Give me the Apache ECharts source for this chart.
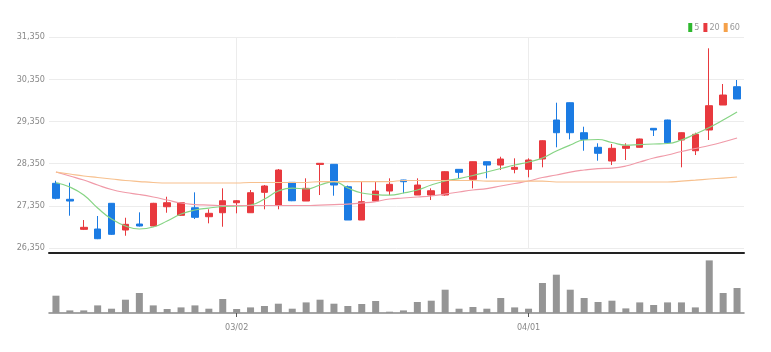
<!DOCTYPE html>
<html><head><meta charset="utf-8">
<script src="https://cdn.jsdelivr.net/npm/echarts@6/dist/echarts.min.js"></script>
<style>html,body{margin:0;padding:0;background:#fff;}#c{width:771px;height:352px;}</style>
</head><body><div id="c"></div>
<script>
const categories = ['02/10','02/11','02/14','02/15','02/16','02/17','02/18','02/21','02/22','02/23','02/24','02/25','02/28','03/02','03/03','03/04','03/07','03/08','03/10','03/11','03/14','03/15','03/16','03/17','03/18','03/21','03/22','03/23','03/24','03/25','03/28','03/29','03/30','03/31','04/01','04/04','04/05','04/06','04/07','04/08','04/11','04/12','04/13','04/14','04/15','04/18','04/19','04/20','04/21','04/22'];
const opens  = [27883,27504,26792,26800,27409,26776,26918,26871,27328,27124,27304,27091,27186,27423,27186,27669,27368,27906,27463,28330,28333,27802,27013,27463,27700,27961,27605,27605,27605,28214,27977,28395,28316,28214,28214,28459,29383,29793,29082,28736,28411,28712,28736,29186,29383,28909,28655,29146,29738,30172];
const closes = [27527,27463,26840,26570,26674,26911,26871,27409,27423,27423,27077,27172,27470,27470,27660,27819,28198,27470,27764,28357,27842,27013,27447,27700,27859,27921,27842,27707,28158,28143,28395,28316,28459,28262,28435,28892,29082,29082,28925,28594,28712,28767,28933,29146,28845,29082,29044,29722,29975,29881];
const lows   = [27504,27115,26776,26560,26660,26641,26860,26860,27186,27110,27037,26935,26854,27172,27180,27267,27267,27460,27463,27605,27589,27013,27013,27447,27605,27646,27605,27487,27590,28001,27764,28001,28198,28120,28025,28262,28736,28925,28655,28418,28316,28435,28730,29004,28840,28262,28553,28909,29738,29881];
const highs  = [27944,27897,27013,27108,27415,27067,27195,27420,27565,27430,27669,27267,27764,27487,27724,27842,28222,27910,28001,28360,28340,27830,27921,27921,28001,27965,28001,27764,28170,28220,28400,28400,28513,28475,28475,28900,29793,29800,29224,28831,28814,28831,28940,29190,29390,29090,29082,31082,30236,30331];
const ma5  = [27897,27795,27605,27297,27037,26871,26800,26847,26989,27155,27250,27297,27333,27345,27368,27511,27700,27771,27748,27842,27925,27771,27653,27617,27605,27653,27724,27842,27937,27996,28068,28150,28233,28316,28388,28482,28648,28790,28909,28921,28850,28790,28802,28814,28826,28909,29051,29205,29383,29573];
const ma20 = [28150,28056,27961,27842,27736,27665,27617,27558,27487,27416,27380,27368,27357,27357,27357,27357,27357,27357,27357,27368,27380,27392,27416,27451,27511,27535,27558,27582,27629,27677,27724,27759,27819,27878,27937,28020,28080,28150,28198,28233,28245,28293,28388,28482,28553,28636,28708,28779,28862,28956];
const ma60 = [28150,28103,28056,28020,27985,27949,27925,27902,27890,27890,27890,27890,27890,27890,27902,27902,27902,27902,27902,27925,27925,27925,27925,27925,27925,27949,27949,27949,27949,27949,27949,27937,27937,27937,27937,27937,27914,27914,27914,27914,27914,27914,27914,27914,27914,27937,27960,27985,28008,28032];
const volumes = [173000,26000,26000,76000,43000,133000,200000,76000,40000,56000,76000,43000,140000,40000,56000,70000,93000,43000,106000,133000,93000,70000,90000,120000,13000,26000,110000,123000,233000,43000,60000,43000,150000,56000,43000,300000,383000,233000,150000,110000,123000,46000,106000,80000,106000,106000,56000,526000,200000,250000];
const yTicks = {min: 26350, max: 31350, step: 1000};
const shownLabels = ['03/02','04/01'];

const candleData = categories.map((c,i)=>[opens[i],closes[i],lows[i],highs[i]]);
const isShown = (idx, val) => shownLabels.indexOf(categories[idx]) >= 0;
const fmt = v => String(v).replace(/\B(?=(\d{3})+(?!\d))/g, ',');
const FONT = "'Liberation Sans Narrow','DejaVu Sans Condensed',sans-serif";

const chart = echarts.init(document.getElementById('c'), null, {renderer:'canvas'});
chart.setOption({
  animation: false,
  backgroundColor: '#fff',
  legend: {
    data: ['5','20','60'], right: 26, top: 18, icon: 'rect', itemWidth: 4, itemHeight: 9, itemGap: 4,
    textStyle: {color: '#999', fontSize: 9, fontFamily: FONT, padding: [0,0,0,-3]}
  },
  grid: [
    {left: 49, right: 27, top: 37, height: 211},
    {left: 49, right: 27, top: 258, bottom: 39}
  ],
  xAxis: [
    {type: 'category', data: categories, gridIndex: 0, boundaryGap: true, offset: 5,
     axisLine: {show: true, lineStyle: {color: '#222', width: 2}}, axisTick: {show: false}, axisLabel: {show: false},
     splitLine: {show: false}},
    {type: 'category', data: categories, gridIndex: 1, boundaryGap: true,
     axisLine: {show: true, lineStyle: {color: '#888', width: 1.5}},
     axisTick: {show: true, interval: isShown, length: 4, lineStyle: {color: '#555'}, alignWithLabel: true},
     axisLabel: {show: true, interval: isShown, color: '#888', fontSize: 9, fontFamily: FONT, margin: 10},
     splitLine: {show: false}}
  ],
  yAxis: [
    {type: 'value', gridIndex: 0, min: yTicks.min, max: yTicks.max, interval: yTicks.step, scale: true,
     axisLine: {show: false}, axisTick: {show: false},
     axisLabel: {color: '#888', fontSize: 9, fontFamily: FONT, formatter: fmt, margin: 4},
     splitLine: {show: true, lineStyle: {color: '#ececec', width: 1}}},
    {type: 'value', gridIndex: 1, min: 0, max: 550000, show: false, splitLine: {show: false}}
  ],
  series: [
    {type: 'candlestick', name: 'price', xAxisIndex: 0, yAxisIndex: 0, data: candleData, barWidth: 7,
     itemStyle: {color: '#e8393e', color0: '#1b7be3', borderColor: '#e8393e', borderColor0: '#1b7be3', borderWidth: 1},
     markLine: {silent: true, symbol: ['none','none'], label: {show: false}, z: 0,
       lineStyle: {color: '#ececec', width: 1, type: 'solid'},
       data: shownLabels.map(l => ({xAxis: l}))}},
    {type: 'line', name: '5', data: ma5, xAxisIndex: 0, yAxisIndex: 0, showSymbol: false, smooth: true,
     lineStyle: {color: '#86d484', width: 1.2}, itemStyle: {color: '#2eb82e'}},
    {type: 'line', name: '20', data: ma20, xAxisIndex: 0, yAxisIndex: 0, showSymbol: false, smooth: true,
     lineStyle: {color: '#f09aa8', width: 1.2}, itemStyle: {color: '#e8393e'}},
    {type: 'line', name: '60', data: ma60, xAxisIndex: 0, yAxisIndex: 0, showSymbol: false, smooth: true,
     lineStyle: {color: '#f7c08e', width: 1.2}, itemStyle: {color: '#f5a14a'}},
    {type: 'bar', name: 'vol', data: volumes, xAxisIndex: 1, yAxisIndex: 1, barWidth: 7,
     itemStyle: {color: '#959595'}}
  ]
});
</script></body></html>
